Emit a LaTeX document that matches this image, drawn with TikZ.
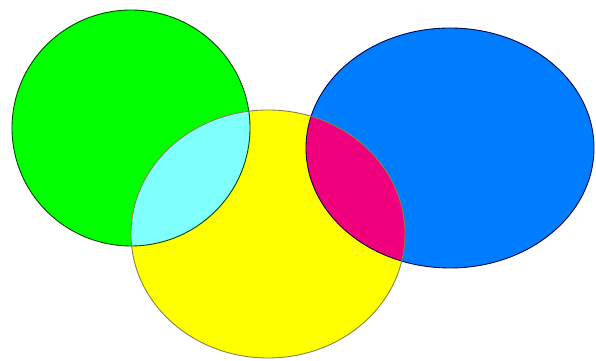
\documentclass[tikz,border=0pt]{standalone}
\usepackage{tikz}

\definecolor{setGreen}{RGB}{0,255,0}
\definecolor{setYellow}{RGB}{255,255,0}
\definecolor{setBlue}{RGB}{0,124,255}
\definecolor{mixCyan}{RGB}{128,255,255}
\definecolor{mixPink}{RGB}{240,0,124}

\begin{document}
\begin{tikzpicture}[
        x=0.02cm, y=0.02cm,
        rim/.style={draw=black!75!green, line width=0.5pt},
        rimB/.style={draw=black!70!blue, line width=0.5pt},
        rimY/.style={draw=black!55!yellow, line width=0.5pt}
    ]

    \useasboundingbox[fill=white] (0,0) rectangle (596,361);

    % the three sets
    \fill[setGreen] (131,233) ellipse [x radius=119, y radius=118];
    \fill[setBlue] (450,213) ellipse [x radius=144, y radius=120];
    \fill[setYellow] (268,127) ellipse [x radius=137, y radius=124];

    % overlaps
    \begin{scope}
        \clip (131,233) ellipse [x radius=119, y radius=118];
        \fill[mixCyan] (268,127) ellipse [x radius=137, y radius=124];
    \end{scope}
    \begin{scope}
        \clip (450,213) ellipse [x radius=144, y radius=120];
        \fill[mixPink] (268,127) ellipse [x radius=137, y radius=124];
    \end{scope}

    % outlines
    \draw[rim] (131,233) ellipse [x radius=119, y radius=118];
    \draw[rimB] (450,213) ellipse [x radius=144, y radius=120];
    \draw[rimY] (268,127) ellipse [x radius=137, y radius=124];

\end{tikzpicture}
\end{document}
